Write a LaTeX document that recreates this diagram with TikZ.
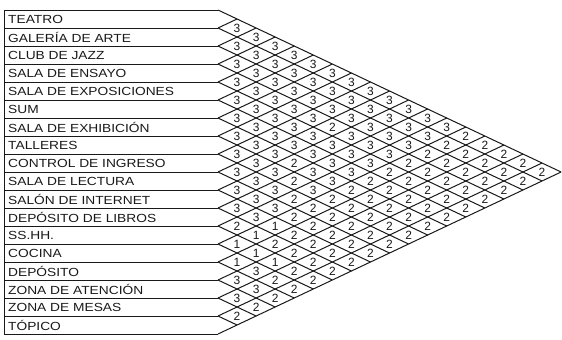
\documentclass[tikz,border=0pt]{standalone}
\usepackage{fontspec}
\setmainfont{Liberation Sans}
\newfontfamily\labelfont[FakeStretch=1.17]{Liberation Sans}
\usetikzlibrary{calc}

\begin{document}
\begin{tikzpicture}[
    x=1bp, y=-1bp,
    grid/.style={draw=black!90, line width=1bp},
    roomlabel/.style={
        anchor=west,
        inner sep=0pt,
        font=\labelfont\fontsize{11.8}{12}\selectfont,
        text=black!90
    },
    rating/.style={
        inner sep=0pt,
        font=\fontsize{12}{12}\selectfont,
        text=black!90
    }
]
\useasboundingbox (0,0) rectangle (562,339);

% left list of spaces
\foreach \name [count=\r] in {TEATRO, GALERÍA DE ARTE, CLUB DE JAZZ, SALA DE ENSAYO,
    SALA DE EXPOSICIONES, SUM, SALA DE EXHIBICIÓN, TALLERES, CONTROL DE INGRESO,
    SALA DE LECTURA, SALÓN DE INTERNET, DEPÓSITO DE LIBROS, SS.HH., COCINA,
    DEPÓSITO, ZONA DE ATENCIÓN, ZONA DE MESAS, TÓPICO}
    \node[roomlabel] (lab\r) at (8, {1+18*\r}) {\name};

\foreach \b in {0,...,18}
    \draw[grid] (4, {10+18*\b}) -- (218, {10+18*\b});
\draw[grid] (4,10) -- (4,334);

% diagonal lattice
\foreach \b in {0,...,17}
    \draw[grid] (218, {10+18*\b}) -- ++({(18-\b)*19.06}, {(18-\b)*9});
\foreach \b in {1,...,18}
    \draw[grid] (218, {10+18*\b}) -- ++({\b*19.06}, {-\b*9});

% relation values, one list per space
\foreach \vals [count=\i] in {
    {3,3,3,3,3,3,3,3,3,3,3,3,2,2,2,2,2},
    {3,3,3,3,3,3,3,3,3,3,3,2,2,2,2,2},
    {3,3,3,3,3,3,3,3,3,3,2,2,2,2,2},
    {3,3,3,3,3,2,3,3,3,2,2,2,2,2},
    {3,3,3,3,3,3,3,3,2,2,2,2,2},
    {3,3,3,3,3,3,3,2,2,2,2,2},
    {3,3,3,2,3,3,2,2,2,2,2},
    {3,3,3,2,3,2,2,2,2,2},
    {3,3,3,2,2,2,2,2,2},
    {3,3,3,2,2,2,2,2},
    {3,3,1,2,2,2,2},
    {2,1,2,2,2,2},
    {1,1,1,2,2},
    {1,3,2,2},
    {3,3,2},
    {3,2},
    {2}}
    \foreach \v [count=\k] in \vals
        \node[rating] (c\i-\k) at ({218+\k*19.06}, {10+9*(2*\i+\k-1)}) {\v};

\end{tikzpicture}
\end{document}
